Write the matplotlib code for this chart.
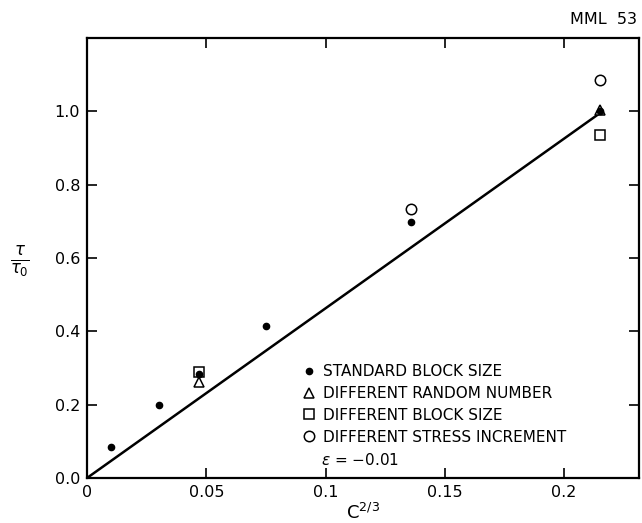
import matplotlib
matplotlib.use("Agg")
import matplotlib.pyplot as plt

# data
std_x = [0.010, 0.030, 0.047, 0.075, 0.136, 0.215]
std_y = [0.085, 0.200, 0.285, 0.415, 0.697, 1.000]
rand_x = [0.047, 0.215]
rand_y = [0.262, 1.005]
block_x = [0.047, 0.215]
block_y = [0.288, 0.935]
stress_x = [0.136, 0.215]
stress_y = [0.735, 1.085]
fit_x = [0.0, 0.215]
fit_y = [0.0, 0.995]

xticks = [0, 0.05, 0.1, 0.15, 0.2]
xticklabels = ["0", "0.05", "0.1", "0.15", "0.2"]
yticks = [0.0, 0.2, 0.4, 0.6, 0.8, 1.0]
yticklabels = ["0.0", "0.2", "0.4", "0.6", "0.8", "1.0"]

plt.rcParams['font.family'] = ['DejaVu Sans']
W, H = 642, 523
fig = plt.figure(figsize=(W/100, H/100), dpi=100)
L, R, T, B = 87, 639, 38, 478
ax = fig.add_axes([L/W, 1-B/H, (R-L)/W, (B-T)/H])

ax.plot(fit_x, fit_y, color='black', lw=1.8, zorder=2)
ax.plot(std_x, std_y, 'o', ms=4.5, color='black', ls='none', zorder=4,
        label='STANDARD BLOCK SIZE')
ax.plot(rand_x, rand_y, '^', ms=7, mfc='white', mec='black', mew=1.1, ls='none',
        zorder=3, label='DIFFERENT RANDOM NUMBER')
ax.plot(block_x, block_y, 's', ms=7, mfc='none', mec='black', mew=1.1, ls='none',
        zorder=3, label='DIFFERENT BLOCK SIZE')
ax.plot(stress_x, stress_y, 'o', ms=7.5, mfc='white', mec='black', mew=1.1, ls='none',
        zorder=3, label='DIFFERENT STRESS INCREMENT')

ax.set_xlim(0, 0.2314)
ax.set_ylim(0, 1.2)
ax.set_xticks(xticks)
ax.set_xticklabels(xticklabels)
ax.set_yticks(yticks)
ax.set_yticklabels(yticklabels)
ax.tick_params(direction='in', length=7, width=1.2, top=True, right=True,
               labelsize=11.5, pad=5)
for s in ax.spines.values():
    s.set_linewidth(1.6)

ax.set_xlabel(r'C$^{2/3}$', fontsize=13, labelpad=2)
fig.text(20/W, 1-262/H, r'$\frac{\tau}{\tau_0}$', fontsize=17, ha='center', va='center')
fig.text(637/W, 1-20/H, 'MML  53', fontsize=11.5, ha='right', va='center')

leg = ax.legend(loc='upper left', bbox_to_anchor=(303/W, 1-364/H),
                bbox_transform=fig.transFigure, frameon=False, fontsize=11,
                handlelength=0.8, handletextpad=0.5, labelspacing=0.45,
                borderaxespad=0, borderpad=0)
fig.text(321/W, 1-460/H, r'$\epsilon$ = $-$0.01', fontsize=11, ha='left', va='center')

fig.savefig('out.png', dpi=100)
